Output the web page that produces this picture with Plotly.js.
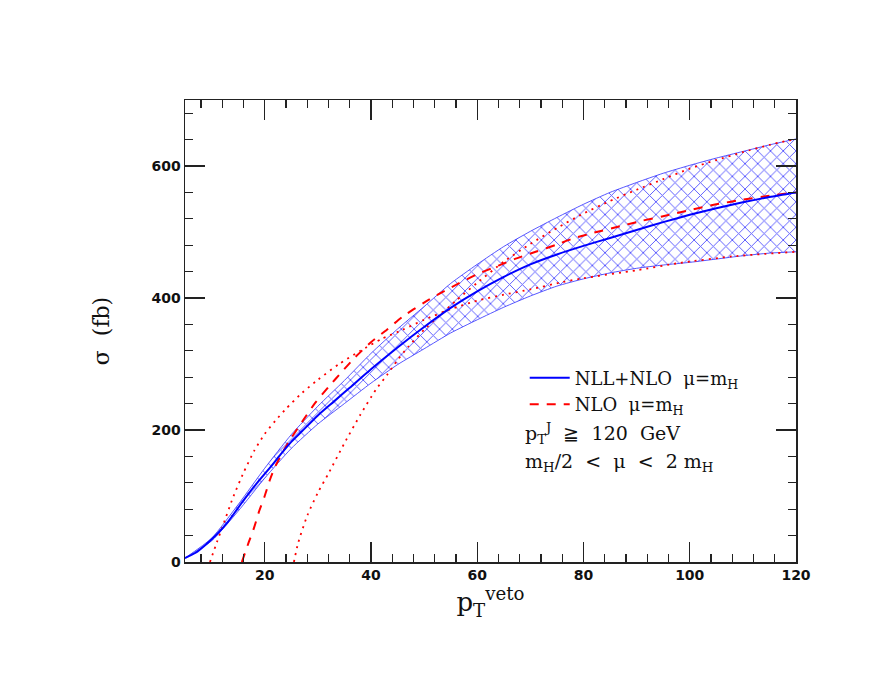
<!DOCTYPE html>
<html>
<head>
<meta charset="utf-8">
<script src="https://cdn.plot.ly/plotly-3.0.1.min.js"></script>
<style>
  html, body { margin: 0; padding: 0; background: #fff; }
  #plot { width: 896px; height: 692px; }
</style>
</head>
<body>
<div id="plot"></div>
<script>
// NLL+NLO central prediction (mu = mH)
const nllX = [5, 7, 9, 11, 13, 15, 17, 19, 21, 23, 25, 27, 30, 33, 36, 40, 45, 50, 55, 60,
              65, 70, 75, 80, 85, 90, 95, 100, 105, 110, 115, 120];
const nllY = [6, 14, 27, 42, 60, 82, 104, 124, 143, 163, 182, 198, 222, 243, 264, 292, 325, 356, 385, 410,
              432, 451, 466, 479, 491, 503, 515, 526, 536, 545, 553, 560];

// scale band  mH/2 < mu < 2 mH
const bandX = [5, 10, 15, 20, 25, 30, 35, 40, 45, 50, 55, 60, 65, 70, 75, 80, 85, 90, 95, 100,
               105, 110, 115, 120];
const bandHi = [6, 36, 87, 142, 193, 236, 275, 316, 353, 387, 422, 451, 478, 501, 522, 542, 560, 575, 589, 601,
                612, 622, 632, 641];
const bandLo = [6, 32, 77, 127, 172, 209, 240, 271, 299, 323, 347, 367, 386, 403, 418, 429, 438, 445, 450, 454,
                459, 464, 468, 470];

// NLO, mu = mH
const nloX = [15.7, 17, 18, 19, 20, 21, 22, 23.5, 25, 27, 29.5, 32, 34.5, 37, 40, 43, 46, 50, 53, 56,
              60, 64, 67, 71, 75, 78, 82, 87, 91, 95, 100, 105, 110, 115, 120];
const nloY = [0, 30, 52, 78, 100, 125, 145, 168, 188, 212, 241, 265, 288, 310, 333, 352, 372, 393, 407, 420,
              436, 449, 459, 470, 481, 490, 499, 509, 517, 524, 533, 542, 549, 555, 560];

// NLO, scale varied (the one starting near pT = 10)
const nloAX = [9.7, 11, 12, 14, 16, 18, 20, 22, 24, 27, 30, 34, 38, 42, 46, 50, 55, 60, 65, 70,
               76, 80, 90, 98, 108, 120];
const nloAY = [0, 30, 52, 97, 135, 168, 194, 214, 232, 256, 276, 300, 320, 338, 352, 367, 383, 396, 405, 413,
               424, 430, 442, 453, 463, 470];

// NLO, scale varied (the one starting near pT = 26)
const nloBX = [25.5, 26.3, 28, 30, 32, 35, 38, 41, 43, 45, 47, 50, 53, 56, 60, 65, 70, 75, 80, 85,
               90, 95, 100, 105, 110, 115, 120];
const nloBY = [0, 29, 70, 105, 134, 180, 223, 262, 283, 306, 326, 352, 374, 396, 423, 455, 482, 506, 528, 547,
               564, 580, 596, 609, 621, 632, 641];

const BLUE = '#0000ff';
const RED = '#ff0000';
const HATCH = 'rgba(45,45,255,0.8)';
const FONT = 'DejaVu Serif, serif';
const NB = '\u00a0';

const smooth = { shape: 'spline', smoothing: 0.6 };

const traces = [
    {
        x: bandX, y: bandLo, type: 'scatter', mode: 'lines',
        line: { color: HATCH, width: 1, ...smooth }, showlegend: false, hoverinfo: 'skip',
    },
    {
        x: bandX, y: bandHi, type: 'scatter', mode: 'lines',
        line: { color: HATCH, width: 1, ...smooth }, showlegend: false, hoverinfo: 'skip',
        fill: 'tonexty', fillcolor: 'rgba(0,0,0,0)',
        fillpattern: { shape: 'x', fgcolor: HATCH, bgcolor: 'rgba(255,255,255,0)',
                       size: 9, solidity: 0.2, fillmode: 'replace' },
    },
    {
        x: nloAX, y: nloAY, type: 'scatter', mode: 'lines',
        line: { color: RED, width: 1.8, dash: '2px,5px', ...smooth }, showlegend: false,
    },
    {
        x: nloBX, y: nloBY, type: 'scatter', mode: 'lines',
        line: { color: RED, width: 1.8, dash: '2px,5px', ...smooth }, showlegend: false,
    },
    {
        x: nloX, y: nloY, type: 'scatter', mode: 'lines', name: 'NLO' + NB + ' μ=m<sub>H</sub>',
        line: { color: RED, width: 2, dash: '9px,8px', ...smooth }, legendrank: 2,
    },
    {
        x: nllX, y: nllY, type: 'scatter', mode: 'lines', name: 'NLL+NLO' + NB + ' μ=m<sub>H</sub>',
        line: { color: BLUE, width: 2, ...smooth }, legendrank: 1,
    },
];

const axisBase = {
    showgrid: false, zeroline: false,
    showline: true, linecolor: '#222', linewidth: 1.5, mirror: 'allticks',
    ticks: 'inside', ticklen: 20, tickwidth: 1.3, tickcolor: '#222',
    tickfont: { family: 'DejaVu Sans, sans-serif', size: 14, color: '#111', weight: 'bold' },
};

const layout = {
    width: 896, height: 692,
    paper_bgcolor: '#fff', plot_bgcolor: '#fff',
    margin: { l: 185, r: 100, t: 100, b: 130 },
    font: { family: FONT, color: '#111' },
    xaxis: {
        ...axisBase,
        range: [5, 120], tick0: 0, dtick: 20,
        minor: { ticks: 'inside', ticklen: 8, dtick: 4, tick0: 0, tickcolor: '#222', tickwidth: 1.2 },
        title: { text: 'p<sub>T</sub><sup>veto</sup>', font: { family: FONT, size: 26 }, standoff: 10 },
    },
    yaxis: {
        ...axisBase,
        range: [0, 700], tick0: 0, dtick: 200,
        minor: { ticks: 'inside', ticklen: 8, dtick: 40, tick0: 0, tickcolor: '#222', tickwidth: 1.2 },
        title: { text: 'σ' + NB + ' (fb)', font: { family: FONT, size: 22 }, standoff: 36 },
    },
    showlegend: true,
    legend: {
        x: 0.556, y: 0.438, xanchor: 'left', yanchor: 'top',
        bgcolor: 'rgba(0,0,0,0)', borderwidth: 0,
        font: { family: FONT, size: 18, color: '#111' },
        traceorder: 'normal', itemwidth: 40,
    },
    annotations: [
        {
            xref: 'paper', yref: 'paper', x: 0.553, y: 0.279, xanchor: 'left', yanchor: 'middle',
            text: 'p<sub>T</sub><sup>J</sup>' + NB + NB + '≧' + NB + NB + '120' + NB + NB + 'GeV', showarrow: false,
            font: { family: FONT, size: 19, color: '#111' },
        },
        {
            xref: 'paper', yref: 'paper', x: 0.553, y: 0.216, xanchor: 'left', yanchor: 'middle',
            text: 'm<sub>H</sub>/2' + NB + NB + '&lt;' + NB + NB + 'μ' + NB + NB + '&lt;' + NB + NB + '2' + NB + 'm<sub>H</sub>',
            showarrow: false,
            font: { family: FONT, size: 19, color: '#111' },
        },
    ],
};

Plotly.newPlot('plot', traces, layout, { staticPlot: true, displayModeBar: false });
</script>
</body>
</html>
